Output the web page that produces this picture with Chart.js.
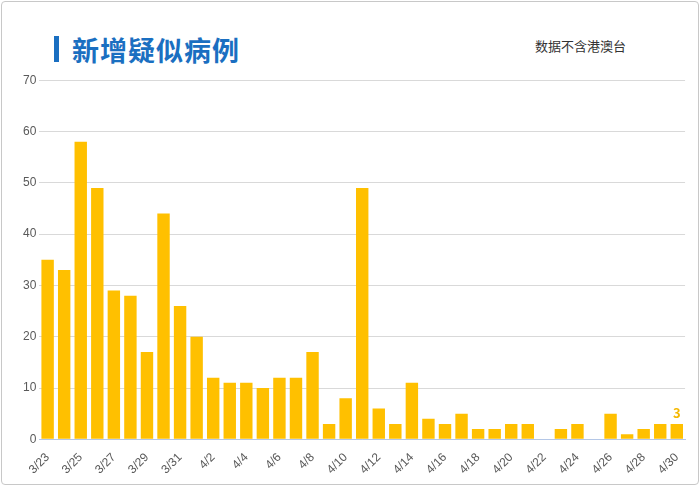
<!DOCTYPE html>
<html><head><meta charset="utf-8">
<script src="https://cdn.jsdelivr.net/npm/chart.js@4"></script>
<style>
body{margin:0;width:700px;height:486px;overflow:hidden;background:#fff;font-family:"Noto Sans CJK SC",sans-serif}
#frame{position:absolute;left:1px;top:1px;width:696px;height:482px;border:1px solid #c8c8c8;border-radius:4px}
#title{position:absolute;left:54px;top:30px;font-size:27px;font-weight:bold;color:#1a6fc1;letter-spacing:1px}
#bar{position:absolute;left:54px;top:36px;width:5px;height:26px;background:#1a6fc1}
#title span{margin-left:18px}
#sub{position:absolute;left:535px;top:36px;font-size:13px;color:#333}
#wrap{position:absolute;left:20px;top:70px;width:670px;height:410px}
</style></head><body>
<div id="frame"></div>
<div id="bar"></div>
<div id="title"><span>新增疑似病例</span></div>
<div id="sub">数据不含港澳台</div>
<div id="wrap"><canvas id="c"></canvas></div>
<script>
const categories=["3/23","3/24","3/25","3/26","3/27","3/28","3/29","3/30","3/31","4/1","4/2","4/3","4/4","4/5","4/6","4/7","4/8","4/9","4/10","4/11","4/12","4/13","4/14","4/15","4/16","4/17","4/18","4/19","4/20","4/21","4/22","4/23","4/24","4/25","4/26","4/27","4/28","4/29","4/30"];
const values=[35,33,58,49,29,28,17,44,26,20,12,11,11,10,12,12,17,3,8,49,6,3,11,4,3,5,2,2,3,3,0,2,3,0,5,1,2,3,3];
const lastLabel={id:'lastLabel',afterDatasetsDraw(ch){const m=ch.getDatasetMeta(0).data;const b=m[m.length-1];const c=ch.ctx;c.save();c.fillStyle='#f5b800';c.font='bold 13px "Noto Sans CJK SC"';c.textAlign='center';c.fillText(String(values[values.length-1]),b.x,b.y-6);c.restore();}};
new Chart(document.getElementById('c'),{type:'bar',data:{labels:categories,datasets:[{data:values,backgroundColor:'#ffc000',categoryPercentage:1,barPercentage:0.75}]},
options:{responsive:true,maintainAspectRatio:false,animation:false,layout:{padding:{top:5,right:2}},
plugins:{legend:{display:false},tooltip:{enabled:false}},
scales:{y:{min:0,max:70,ticks:{stepSize:10,color:'#595959',font:{size:12}},grid:{color:'#d9d9d9',drawTicks:false},border:{display:false}},
x:{grid:{display:false},border:{color:'#b4c7e7'},ticks:{autoSkip:false,maxRotation:45,minRotation:45,color:'#595959',font:{size:12},callback:(v,i)=>i%2===0?categories[i]:''}}}},
plugins:[lastLabel]});
</script></body></html>
